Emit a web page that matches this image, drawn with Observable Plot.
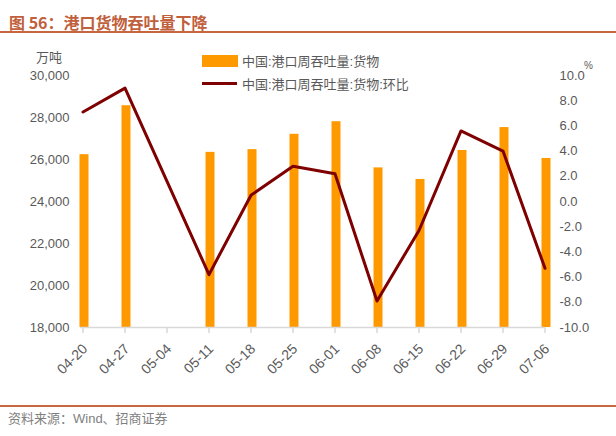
<!DOCTYPE html>
<html>
<head>
<meta charset="utf-8">
<script src="https://cdn.jsdelivr.net/npm/d3@7"></script>
<script src="https://cdn.jsdelivr.net/npm/@observablehq/plot@0.6"></script>
<style>
  html, body { margin: 0; padding: 0; background: #fff; }
  #wrap { position: relative; width: 616px; height: 436px; overflow: hidden;
          font-family: 'Liberation Sans', 'Noto Sans CJK SC', sans-serif; color: #595959; }
  #wrap svg { position: absolute; left: 0; top: 0; }
  .abs { position: absolute; white-space: nowrap; }
  #title { left: 9px; top: 10px; font-size: 16px; font-weight: bold; color: #c0603c;
           font-family: 'Noto Sans CJK SC', sans-serif; }
  #topline { left: 0; top: 31px; width: 616px; height: 1.5px; background: #c8663f; }
  #botline { left: 0; top: 405px; width: 616px; height: 1.5px; background: #c8663f; }
  #source { left: 8px; top: 408px; font-size: 13px; color: #7f7f7f; }
  #unitL { left: 36px; top: 47px; font-size: 13px; }
  #unitR { left: 584px; top: 60px; font-size: 10px; }
  .leg { font-size: 13px; }
</style>
</head>
<body>
<div id="wrap">
  <div class="abs" id="title">图 56：港口货物吞吐量下降</div>
  <div class="abs" id="topline"></div>
  <div class="abs" id="unitL">万吨</div>
  <div class="abs" id="unitR">%</div>
  <div class="abs" style="left:202px;top:55px;width:36px;height:12px;background:#ff9900"></div>
  <div class="abs leg" style="left:242px;top:51px;">中国:港口周吞吐量:货物</div>
  <div class="abs" style="left:202px;top:81.5px;width:35px;height:3px;background:#7f0000"></div>
  <div class="abs leg" style="left:242px;top:74px;">中国:港口周吞吐量:货物:环比</div>
  <div class="abs" id="botline"></div>
  <div class="abs" id="source">资料来源：Wind、招商证券</div>
</div>
<script>
// Categories (weeks)
const dates = ["04-20", "04-27", "05-04", "05-11", "05-18", "05-25", "06-01", "06-08", "06-15", "06-22", "06-29", "07-06"];
// Weekly port cargo throughput (万吨); 05-04 missing
const throughput = [26230, 28560, null, 26340, 26470, 27200, 27800, 25600, 25050, 26430, 27520, 26050];
// Week-over-week change (%); 05-04 missing
const wow = [7.1, 9.0, null, -5.8, 0.5, 2.8, 2.2, -7.9, -2.3, 5.6, 4.0, -5.3];
// Axis ticks
const leftTicks = [18000, 20000, 22000, 24000, 26000, 28000, 30000];
const rightTicks = [-10, -8, -6, -4, -2, 0, 2, 4, 6, 8, 10];

const L0 = 18000, L1 = 30000, R0 = -10, R1 = 10;
const toLeft = v => L0 + (v - R0) / (R1 - R0) * (L1 - L0);
const fromLeft = v => R0 + (v - L0) / (L1 - L0) * (R1 - R0);

const barData = dates.map((d, i) => ({date: d, value: throughput[i]})).filter(d => d.value != null);
const lineData = dates.map((d, i) => ({date: d, value: wow[i]})).filter(d => d.value != null);

const chart = Plot.plot({
  width: 616,
  height: 436,
  marginTop: 75,
  marginBottom: 109,
  marginLeft: 80,
  marginRight: 72,
  style: {fontFamily: "'Liberation Sans', 'Noto Sans CJK SC', sans-serif", fontSize: "13px", color: "#595959", background: "transparent"},
  x: {type: "band", domain: dates, range: [60.4, 567.6], paddingInner: 0.775, paddingOuter: 0.3875, label: null},
  y: {domain: [L0, L1], label: null},
  marks: [
    Plot.barY(barData, {x: "date", y1: L0, y2: "value", fill: "#ff9900", dx: 1.5}),
    Plot.ruleY([L0], {stroke: "#d9d9d9", strokeWidth: 1.5}),
    Plot.axisX({tickSize: 6, stroke: "#d9d9d9", strokeWidth: 1.5, tickFormat: () => "", label: null}),
    Plot.axisX({tickSize: 0, tickPadding: 19, tickRotate: -45, fill: "#595959", fontSize: 14, dx: 2, label: null}),
    Plot.axisY(leftTicks, {anchor: "left", tickSize: 0, tickPadding: 11, tickFormat: d3.format(","), label: null}),
    Plot.axisY(rightTicks.map(toLeft), {anchor: "right", tickSize: 0, tickPadding: 15,
      tickFormat: d => (Math.round(fromLeft(d) * 10) / 10 + 0).toFixed(1), label: null}),
    Plot.line(lineData, {x: "date", y: d => toLeft(d.value), stroke: "#7f0000", strokeWidth: 3})
  ]
});
document.getElementById("wrap").prepend(chart);
</script>
</body>
</html>
